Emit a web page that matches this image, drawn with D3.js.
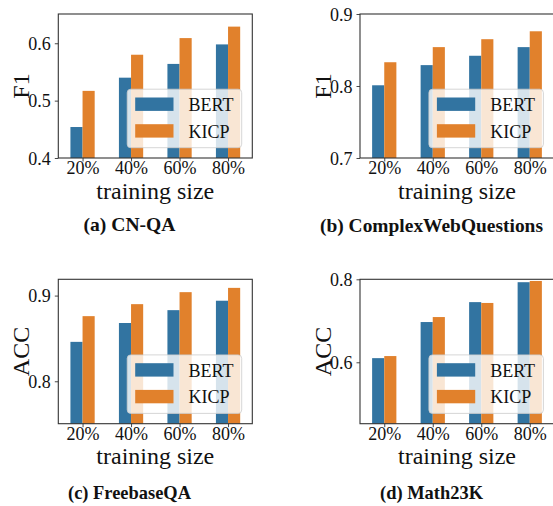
<!DOCTYPE html>
<html>
<head>
<meta charset="utf-8">
<script src="https://cdn.jsdelivr.net/npm/d3@7/dist/d3.min.js"></script>
<style>
  html, body { margin: 0; padding: 0; background: #fff; }
  svg { display: block; }
  text { font-family: "Liberation Serif", "Times New Roman", serif; fill: #111; }
</style>
</head>
<body>
<svg id="chart" width="553" height="506"></svg>
<script>
// ---- data ----
const categories = ["20%", "40%", "60%", "80%"];
const seriesNames = ["BERT", "KICP"];
const seriesColors = ["#3274a1", "#e1812c"];

const cnqaBERT = [0.454, 0.540, 0.564, 0.598];
const cnqaKICP = [0.517, 0.580, 0.609, 0.629];
const cwqBERT  = [0.801, 0.829, 0.842, 0.854];
const cwqKICP  = [0.833, 0.854, 0.865, 0.876];
const fbqaBERT = [0.846, 0.868, 0.883, 0.894];
const fbqaKICP = [0.876, 0.890, 0.904, 0.909];
const mathBERT = [0.610, 0.697, 0.745, 0.793];
const mathKICP = [0.615, 0.709, 0.743, 0.796];

const cnqaTicks = [0.4, 0.5, 0.6];
const cwqTicks  = [0.7, 0.8, 0.9];
const fbqaTicks = [0.8, 0.9];
const mathTicks = [0.6, 0.8];

const xLabel = "training size";

const panels = [
  { series: [cnqaBERT, cnqaKICP], ticks: cnqaTicks, ylim: [0.4, 0.651], ylabel: "F1",  caption: "(a) CN-QA",
    box: { left: 58.3, right: 252.3, top: 14, bottom: 158 }, capX: 129.5, capY: 230.5, capW: 92 },
  { series: [cwqBERT, cwqKICP],   ticks: cwqTicks,  ylim: [0.7, 0.9],   ylabel: "F1",  caption: "(b) ComplexWebQuestions",
    box: { left: 360, right: 554, top: 14, bottom: 158 }, capX: 431.5, capY: 231.5, capW: 223 },
  { series: [fbqaBERT, fbqaKICP], ticks: fbqaTicks, ylim: [0.7505, 0.919], ylabel: "ACC", caption: "(c) FreebaseQA",
    box: { left: 58.3, right: 252.3, top: 279.3, bottom: 423.7 }, capX: 129.5, capY: 499, capW: 123 },
  { series: [mathBERT, mathKICP], ticks: mathTicks, ylim: [0.452, 0.8], ylabel: "ACC", caption: "(d) Math23K",
    box: { left: 360, right: 554, top: 279.3, bottom: 423.7 }, capX: 431.5, capY: 499, capW: 103 }
];

const svg = d3.select("#chart");

panels.forEach(p => {
  const b = p.box;
  const g = svg.append("g");

  const x = d3.scaleLinear().domain([-0.5, categories.length - 0.5]).range([b.left, b.right]);
  const y = d3.scaleLinear().domain(p.ylim).range([b.bottom, b.top]);
  const barW = 0.25;

  p.series.forEach((vals, si) => {
    g.append("g").selectAll("rect")
      .data(vals)
      .join("rect")
      .attr("x", (d, i) => x(i - barW + si * barW))
      .attr("width", x(barW) - x(0))
      .attr("y", d => y(d))
      .attr("height", d => b.bottom - y(d))
      .attr("fill", seriesColors[si]);
  });

  const yAxis = d3.axisLeft(y).tickValues(p.ticks).tickFormat(d3.format(".1f")).tickSize(3.5).tickPadding(4);
  const ya = g.append("g").attr("transform", `translate(${b.left},0)`).call(yAxis);
  const xAxis = d3.axisBottom(x).tickValues(d3.range(categories.length)).tickFormat(i => categories[i]).tickSize(3.5).tickPadding(3);
  const xa = g.append("g").attr("transform", `translate(0,${b.bottom})`).call(xAxis);
  [ya, xa].forEach(a => {
    a.attr("font-family", null);
    a.select(".domain").remove();
    a.selectAll(".tick line").attr("stroke", "#333").attr("stroke-width", 0.9);
    a.selectAll(".tick text").attr("font-size", 18).attr("fill", "#111");
  });
  xa.selectAll(".tick text").attr("dy", null).attr("y", 16.3);
  ya.selectAll(".tick text").attr("dy", "0.34em");

  g.append("rect")
    .attr("x", b.left).attr("y", b.top)
    .attr("width", b.right - b.left).attr("height", b.bottom - b.top)
    .attr("fill", "none").attr("stroke", "#333").attr("stroke-width", 1.1);

  const lgRight = b.right - 10.6, lgBottom = b.bottom - 10.3;
  const lgW = 114.5, lgH = 58.5;
  const lg = g.append("g").attr("transform", `translate(${lgRight - lgW},${lgBottom - lgH})`);
  lg.append("rect")
    .attr("width", lgW).attr("height", lgH).attr("rx", 3.5)
    .attr("fill", "#fff").attr("fill-opacity", 0.8)
    .attr("stroke", "#cccccc").attr("stroke-opacity", 0.8).attr("stroke-width", 1);
  seriesNames.forEach((name, si) => {
    const ry = 8.3 + si * 26.7;
    lg.append("rect").attr("x", 8).attr("y", ry).attr("width", 38.3).attr("height", 13.4)
      .attr("fill", seriesColors[si]);
    lg.append("text").attr("x", 61.3).attr("y", ry + 13.4).attr("font-size", 18).text(name);
  });

  const cx = (b.left + b.right) / 2;
  g.append("text").attr("x", cx).attr("y", b.bottom + 40.5)
    .attr("text-anchor", "middle").attr("font-size", 24).text(xLabel);
  const cy = (b.top + b.bottom) / 2;
  g.append("text").attr("transform", `translate(${b.left - 29.5},${cy}) rotate(-90)`)
    .attr("text-anchor", "middle").attr("font-size", 24).text(p.ylabel);

  g.append("text").attr("x", p.capX).attr("y", p.capY)
    .attr("text-anchor", "middle").attr("font-size", 19).attr("font-weight", "bold")
    .attr("textLength", p.capW).attr("lengthAdjust", "spacingAndGlyphs")
    .text(p.caption);
});
</script>
</body>
</html>
